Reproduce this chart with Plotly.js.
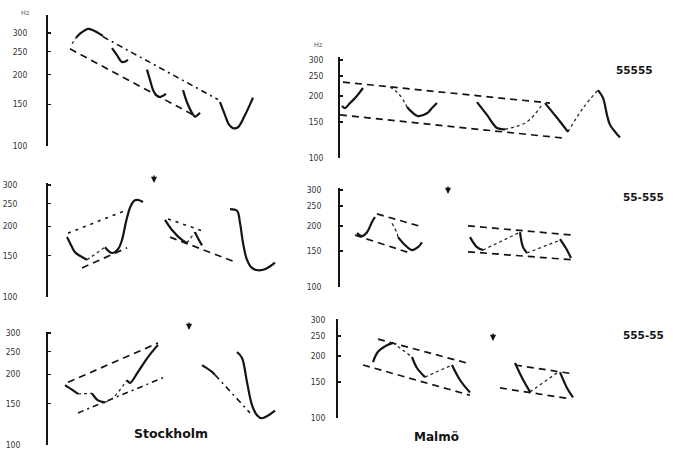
<!DOCTYPE html>
<html>
<head>
<meta charset="utf-8">
<script src="https://cdn.plot.ly/plotly-3.0.1.min.js"></script>
<style>html,body{margin:0;padding:0;background:#fff;}#chart{width:673px;height:450px;}</style>
</head>
<body>
<div id="chart"></div>
<script>
// Tick labels of every frequency axis (Hz)
const hzTicks = [100, 150, 200, 250, 300];
const patternLabels = ["55555", "55-555", "555-55"];
const cityLabels = ["Stockholm", "Malmö"];

// ---- Stockholm 55555 (time units, Hz) ----
const s1Solid = [
  {t:[28,32,36,40,45,50,55], hz:[286,298,306,312,308,300,291]},
  {t:[64,69,74,80], hz:[259,242,226,231]},
  {t:[99,102,106,111,118], hz:[210,190,169,161,166]},
  {t:[135,139,144,147,152], hz:[172,153,138,133,138]},
  {t:[172,177,181,185,190,197,205], hz:[153,135,123,119,120,135,160]}
];
const s1Dotted = [{t:[24,28], hz:[270,286]}];
const s1Top = {t:[55,170], hz:[289,157]};
const s1Base = {t:[22,147], hz:[257,134]};

// ---- Malmö 55555 ----
const m1Solid = [
  {t:[2,5,10,16,23], hz:[179,175,185,198,219]},
  {t:[67,72,78,87,92,97], hz:[177,167,160,165,175,185]},
  {t:[137,147,157,165], hz:[187,162,140,138]},
  {t:[205,217,228], hz:[185,157,134]},
  {t:[258,263,267,270,278,280], hz:[214,196,162,145,129,126]}
];
const m1Dotted = [
  {t:[50,58,65,67], hz:[221,207,185,177]},
  {t:[165,187,203], hz:[138,150,185]},
  {t:[228,243,258], hz:[134,175,214]}
];
const m1Top = {t:[3,210], hz:[234,185]};
const m1Base = {t:[0,223], hz:[162,125]};

// ---- Stockholm 55-555 ----
const s2Solid = [
  {t:[19,22,27,34,39], hz:[180,170,155,148,144]},
  {t:[57,64,70,74,78,82,86,90,95], hz:[163,154,160,175,209,240,257,259,254]},
  {t:[117,124,134,139], hz:[213,193,175,170]},
  {t:[147,150,154], hz:[189,178,166]},
  {t:[182,189,192,195,199,204,210,218,227], hz:[237,233,207,170,144,133,130,132,140]}
];
const s2Dotted = [
  {t:[39,57], hz:[144,163]},
  {t:[139,147], hz:[170,189]}
];
const s2Top = [{t:[20,79], hz:[187,235]}, {t:[120,155], hz:[215,191]}];
const s2Base = [{t:[34,79], hz:[133,162]}, {t:[122,189], hz:[180,140]}];

// ---- Malmö 55-555 ----
const m2Solid = [
  {t:[17,22,27,32,35], hz:[184,178,186,209,221]},
  {t:[58,65,72,78,82], hz:[176,161,152,157,166]},
  {t:[130,137,143], hz:[176,157,152]},
  {t:[180,183,187], hz:[186,157,147]},
  {t:[220,226,231], hz:[172,155,139]}
];
const m2Dotted = [
  {t:[52,57,58], hz:[206,184,176]},
  {t:[143,180], hz:[152,186]},
  {t:[187,220], hz:[147,170]}
];
const m2Top = [{t:[37,83], hz:[229,197]}, {t:[128,233], hz:[200,180]}];
const m2Base = [{t:[15,70], hz:[180,147]}, {t:[128,233], hz:[149,136]}];

// ---- Stockholm 555-55 ----
const s3Solid = [
  {t:[17,25,30], hz:[180,171,165]},
  {t:[44,50,57], hz:[166,155,152]},
  {t:[79,82,90,100,110], hz:[189,184,205,237,267]},
  {t:[154,164,167], hz:[219,205,199]},
  {t:[189,194,199,204,209,214,227], hz:[249,235,185,148,134,130,140]}
];
const s3Dotted = [
  {t:[30,44], hz:[165,166]},
  {t:[57,65,79], hz:[152,159,189]}
];
const s3Top = [{t:[20,110], hz:[185,272]}];
const s3Base = [{t:[30,117], hz:[137,195]}, {t:[167,202], hz:[199,137]}];

// ---- Malmö 555-55 ----
const m3Solid = [
  {t:[35,40,49,55], hz:[187,210,226,232]},
  {t:[74,79,87], hz:[198,175,158]},
  {t:[114,122,132], hz:[181,153,133]},
  {t:[177,184,192], hz:[185,157,134]},
  {t:[222,229,235], hz:[167,140,126]}
];
const m3Dotted = [
  {t:[55,74], hz:[232,198]},
  {t:[87,114], hz:[158,181]},
  {t:[192,220], hz:[134,167]}
];
const m3Top = [{t:[40,129], hz:[242,185]}, {t:[177,235], hz:[181,164]}];
const m3Base = [{t:[25,132], hz:[181,129]}, {t:[162,232], hz:[140,124]}];

// ---- styles ----
const INK = '#141414';
const stSolid = {color: INK, width: 2.2, shape: 'spline', smoothing: 1};
const stDot = {color: '#2a2a2a', width: 1.3, dash: 'dot', shape: 'spline', smoothing: 1};
const stDash = {color: INK, width: 1.7, dash: '7px,5px'};
const stDashDot = {color: INK, width: 1.6, dash: '6px,4px,2px,4px'};
const stShort = {color: INK, width: 1.6, dash: '3px,5px'};

const traces = [];
function add(seg, n, style) {
  traces.push({
    x: seg.t, y: seg.hz, xaxis: 'x' + n, yaxis: 'y' + n,
    type: 'scatter', mode: 'lines', line: style,
    hoverinfo: 'skip', showlegend: false, cliponaxis: false
  });
}
function panel(n, solid, dotted, top, base, topStyle, baseStyle) {
  [].concat(top).forEach(s => add(s, n, topStyle));
  [].concat(base).forEach(s => add(s, n, baseStyle));
  dotted.forEach(s => add(s, n, stDot));
  solid.forEach(s => add(s, n, stSolid));
}
panel(1, s1Solid, s1Dotted, s1Top, s1Base, stDashDot, stDash);
panel(2, m1Solid, m1Dotted, m1Top, m1Base, stDash, stDash);
panel(3, s2Solid, s2Dotted, s2Top, s2Base, stShort, stDash);
panel(4, m2Solid, m2Dotted, m2Top, m2Base, stDash, stDash);
panel(5, s3Solid, s3Dotted, s3Top, s3Base, stDash, stDashDot);
panel(6, m3Solid, m3Dotted, m3Top, m3Base, stDash, stDash);

const W = 673, H = 450;
// panel frames in pixels: [axisX, width, y of 100 Hz, y of top, top Hz, label standoff]
const frames = [
  [48, 235, 146, 15, 357, 17],
  [340, 290, 158, 57, 310, 13],
  [48, 235, 297, 183, 306, 27],
  [340, 290, 287, 188, 307, 15],
  [48, 235, 445, 332, 303, 24],
  [338, 290, 418, 319, 303, 9]
];
const layout = {
  width: W, height: H, autosize: false,
  margin: {l: 0, r: 0, t: 0, b: 0, pad: 0},
  paper_bgcolor: '#ffffff', plot_bgcolor: 'rgba(0,0,0,0)',
  showlegend: false,
  annotations: [], shapes: []
};
frames.forEach((f, i) => {
  const n = i + 1;
  const [ax, w, yb, yt, topHz, stand] = f;
  layout['xaxis' + n] = {
    domain: [ax / W, (ax + w) / W], range: [0, w],
    visible: false, fixedrange: true, anchor: 'y' + n
  };
  layout['yaxis' + n] = {
    type: 'log', domain: [1 - yb / H, 1 - yt / H],
    range: [2, Math.log10(topHz)], anchor: 'x' + n,
    showline: true, linewidth: 2, linecolor: INK, mirror: false,
    ticks: 'inside', ticklen: 3, tickwidth: 1.5, tickcolor: INK,
    tickmode: 'array', tickvals: hzTicks, ticktext: hzTicks.map(String),
    tickfont: {family: 'DejaVu Sans Condensed, Liberation Sans Narrow, DejaVu Sans, sans-serif', size: 8.5, color: '#333'},
    ticklabelstandoff: stand,
    showgrid: false, zeroline: false, fixedrange: true
  };
});

function txt(text, px, py, size, bold, color) {
  layout.annotations.push({
    text: bold ? '<b>' + text + '</b>' : text, xref: 'paper', yref: 'paper',
    x: px / W, y: 1 - py / H, xanchor: 'center', yanchor: 'middle', showarrow: false,
    font: {family: 'DejaVu Sans, sans-serif', size: size, color: color || INK}
  });
}
txt(patternLabels[0], 634, 70, 10.5, true);
txt(patternLabels[1], 643, 197, 10.5, true);
txt(patternLabels[2], 643, 335, 10.5, true);
txt(cityLabels[0], 171, 433, 12.5, true);
txt(cityLabels[1], 436, 437, 12, true);
txt('Hz', 25, 13, 6.5, false, '#555');
txt('Hz', 318, 45, 6.5, false, '#555');

// arrows marking the word boundary
[[154, 183], [448, 194], [189, 330], [493, 341]].forEach(p => {
  layout.annotations.push({
    xref: 'paper', yref: 'paper', x: p[0] / W, y: 1 - p[1] / H,
    showarrow: true, text: '', ax: 0, ay: -9, arrowhead: 2,
    arrowsize: 0.9, arrowwidth: 1.4, arrowcolor: INK
  });
});

Plotly.newPlot('chart', traces, layout, {staticPlot: true, displayModeBar: false});
</script>
</body>
</html>
